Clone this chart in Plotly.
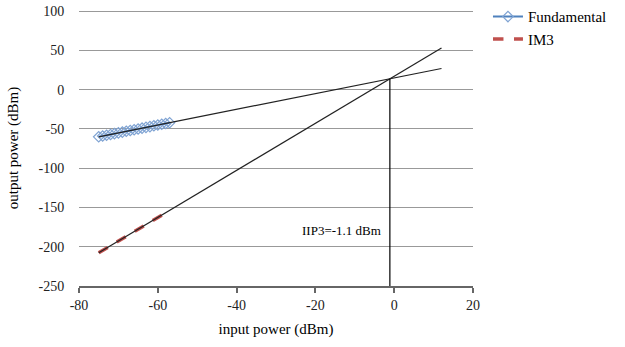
import plotly.graph_objects as go

# Data
pin = [-75, -74, -73, -72, -71, -70, -69, -68, -67, -66, -65, -64, -63, -62, -61, -60, -59, -58, -57]
fund = [-60, -59, -58, -57, -56, -55, -54, -53, -52, -51, -50, -49, -48, -47, -46, -45, -44, -43, -42]
im3 = [-207.8, -204.8, -201.8, -198.8, -195.8, -192.8, -189.8, -186.8, -183.8, -180.8, -177.8,
       -174.8, -171.8, -168.8, -165.8, -162.8, -159.8, -156.8, -153.8]
fit_x = [-75, 12]
fund_fit = [-60, 27]
im3_fit = [-207.8, 53.2]
iip3_x = [-1.1, -1.1]
iip3_y = [-250, 13.9]
xticks = [-80, -60, -40, -20, 0, 20]
xlabels = ["-80", "-60", "-40", "-20", "0", "20"]
yticks = [100, 50, 0, -50, -100, -150, -200, -250]
ylabels = ["100", "50", "0", "-50", "-100", "-150", "-200", "-250"]

font = "Liberation Serif"

fig = go.Figure()
fig.add_trace(go.Scatter(x=pin, y=fund, mode="lines+markers", name="Fundamental",
                         line=dict(color="#4F81BD", width=2),
                         marker=dict(symbol="diamond-open", size=8, color="#7FA3D3", line=dict(width=1.2))))
fig.add_trace(go.Scatter(x=pin, y=im3, mode="lines", name="IM3",
                         line=dict(color="#C0504D", width=3.5, dash="dash")))
fig.add_trace(go.Scatter(x=fit_x, y=fund_fit, mode="lines", showlegend=False,
                         line=dict(color="#222222", width=1.2)))
fig.add_trace(go.Scatter(x=fit_x, y=im3_fit, mode="lines", showlegend=False,
                         line=dict(color="#222222", width=1.2)))
fig.add_trace(go.Scatter(x=iip3_x, y=iip3_y, mode="lines", showlegend=False,
                         line=dict(color="#000000", width=1.2)))

fig.add_annotation(x=-24, y=-179, text="IIP3=-1.1 dBm", showarrow=False, xanchor="left",
                   font=dict(family=font, size=13, color="#000000"))

fig.update_layout(
    width=625, height=347,
    margin=dict(l=79, r=152, t=10, b=61, autoexpand=False),
    paper_bgcolor="white", plot_bgcolor="white",
    font=dict(family=font, size=13, color="#222222"),
    legend=dict(x=1.038, y=1.035, xanchor="left", yanchor="top",
                font=dict(family=font, size=15, color="#000000"),
                bgcolor="rgba(0,0,0,0)", tracegroupgap=0, itemwidth=30),
    xaxis=dict(range=[-80, 20], tickvals=xticks, ticktext=xlabels, showgrid=False, zeroline=False,
               automargin=False,
               showline=True, linecolor="#666666", linewidth=1.5,
               ticks="outside", ticklen=5, tickcolor="#666666", tickwidth=1.5,
               title=dict(text="input power (dBm)", font=dict(family=font, size=15, color="#000000"), standoff=12),
               tickfont=dict(family=font, size=14, color="#222222")),
    yaxis=dict(range=[-250, 101.5], tickvals=yticks, ticktext=ylabels, showgrid=True, gridcolor="#999999", gridwidth=1,
               zeroline=False, showline=False, automargin=False, ticklabeloverflow="allow",
               ticks="outside", ticklen=11, tickcolor="rgba(0,0,0,0)",
               title=dict(text="output power (dBm)", font=dict(family=font, size=15, color="#000000"), standoff=16),
               tickfont=dict(family=font, size=14, color="#222222")),
)

fig.write_html("out.html", config={"displayModeBar": False},
               post_script="document.body.style.margin='0';")
